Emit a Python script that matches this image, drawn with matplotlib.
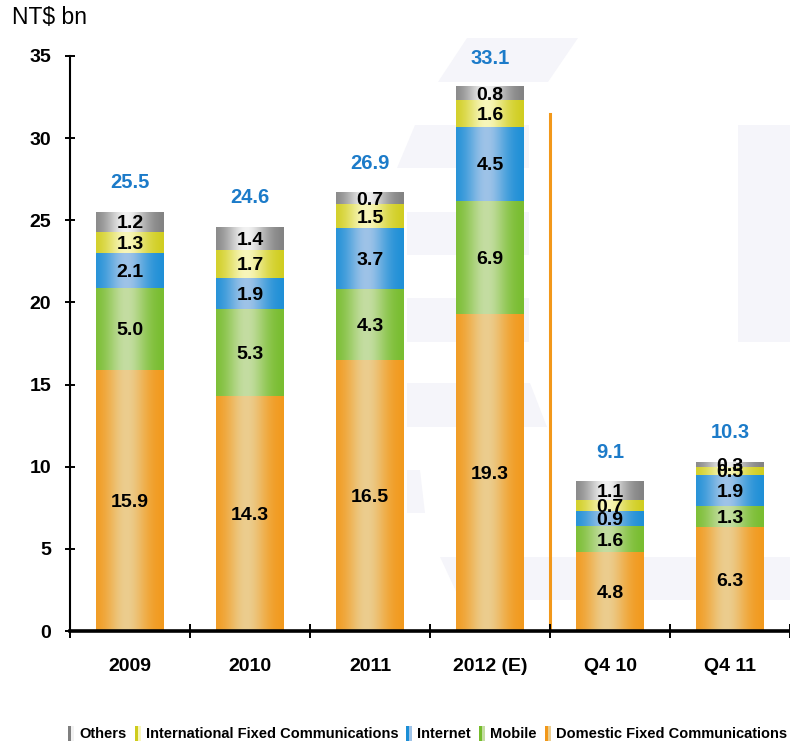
import numpy as np
import matplotlib
matplotlib.use('Agg')
import matplotlib.pyplot as plt
from matplotlib.patches import Polygon, Rectangle
from matplotlib.colors import to_rgb

# ---- data (NT$ bn) ----
categories = ['2009', '2010', '2011', '2012 (E)', 'Q4 10', 'Q4 11']
domestic = [15.9, 14.3, 16.5, 19.3, 4.8, 6.3]
mobile = [5.0, 5.3, 4.3, 6.9, 1.6, 1.3]
internet = [2.1, 1.9, 3.7, 4.5, 0.9, 1.9]
intl_fixed = [1.3, 1.7, 1.5, 1.6, 0.7, 0.5]
others = [1.2, 1.4, 0.7, 0.8, 1.1, 0.3]
totals = [25.5, 24.6, 26.9, 33.1, 9.1, 10.3]
yticks = [0, 5, 10, 15, 20, 25, 30, 35]

series_names = ['Domestic Fixed Communications', 'Mobile', 'Internet',
                'International Fixed Communications', 'Others']
series_vals = [domestic, mobile, internet, intl_fixed, others]
# (edge colour, centre highlight) for the cylinder-like shading
series_cols = [('#F2981A', '#EBCD8E'),
               ('#76BC2C', '#C4DDA2'),
               ('#1B8ED6', '#9EC3E8'),
               ('#CFCC1C', '#F8F6BA'),
               ('#7F7F7F', '#F2F2F2')]

FONT = ['Liberation Sans', 'DejaVu Sans']
W, H = 790, 745


def grad_row(edge, centre, n=80):
    t = np.linspace(0, 1, n)
    w = np.exp(-((t - 0.45) / 0.3) ** 2)
    e, c = np.array(to_rgb(edge)), np.array(to_rgb(centre))
    return (e[None, :] * (1 - w[:, None]) + c[None, :] * w[:, None])[None, :, :]


fig = plt.figure(figsize=(W / 100, H / 100), dpi=100)

# faint watermark shapes in the background (pixel coords, y from top)
wm = [
    [(467, 38), (578, 38), (548, 82), (438, 82)],
    [(415, 125), (529, 125), (529, 168), (397, 168)],
    [(738, 125), (790, 125), (790, 342), (738, 342)],
    [(407, 212), (529, 212), (529, 255), (407, 255)],
    [(407, 298), (529, 298), (529, 342), (407, 342)],
    [(407, 383), (530, 383), (547, 427), (407, 427)],
    [(407, 470), (420, 470), (425, 513), (407, 513)],
    [(440, 557), (790, 557), (790, 600), (460, 600)],
]
for poly in wm:
    pts = [(x / W, 1 - y / H) for x, y in poly]
    fig.add_artist(Polygon(pts, closed=True, transform=fig.transFigure,
                           facecolor='#F5F5FA', edgecolor='none', zorder=-5))

ax = fig.add_axes([70 / W, 1 - 631 / H, 720 / W, 575 / H])
ax.set_facecolor('none')

x = np.arange(len(categories))
bw = 0.56
bottom = np.zeros(len(categories))
for name, vals, (edge, centre) in zip(series_names, series_vals, series_cols):
    bars = ax.bar(x, vals, bw, bottom=bottom, color=edge, zorder=2, label=name)
    img = grad_row(edge, centre)
    for p, v in zip(bars.patches, vals):
        x0, y0 = p.get_xy()
        ax.imshow(img, extent=[x0, x0 + p.get_width(), y0, y0 + p.get_height()],
                  aspect='auto', interpolation='bilinear', zorder=3)
        ax.text(x0 + p.get_width() / 2, y0 + p.get_height() / 2, f'{v:.1f}',
                ha='center', va='center_baseline', fontsize=14, fontweight='bold',
                family=FONT, color='black', zorder=4)
    bottom += np.array(vals)

for xi, tot, top in zip(x, totals, bottom):
    ax.annotate(f'{tot:.1f}', (xi, top), xytext=(0, 21), textcoords='offset points',
                ha='center', va='center', fontsize=14.5, fontweight='bold',
                family=FONT, color='#1C7BC9', annotation_clip=False)

# divider between annual and quarterly figures
ax.plot([3.5, 3.5], [0, 31.5], color='#F2981A', lw=2.2, zorder=1)

ax.set_xlim(-0.5, 5.45)
ax.set_ylim(0, 35)
ax.set_yticks(yticks)
ax.set_xticks(x)
ax.set_xticklabels(categories)
ax.set_xticks(np.arange(-0.5, 5.6, 1.0), minor=True)
ax.tick_params(axis='x', which='major', length=0, pad=24)
ax.tick_params(axis='x', which='minor', direction='inout', length=10, width=1.4)
ax.tick_params(axis='y', direction='inout', length=7, width=1.4, pad=10)
for lab in ax.get_xticklabels() + ax.get_yticklabels():
    lab.set_family(FONT)
    lab.set_fontweight('bold')
    lab.set_fontsize(14)
for lab in ax.get_xticklabels():
    lab.set_va('center_baseline')
ax.spines['top'].set_visible(False)
ax.spines['right'].set_visible(False)
ax.spines['left'].set_linewidth(1.5)
ax.spines['bottom'].set_linewidth(2.6)
ax.spines['bottom'].set_zorder(5)

fig.text(12 / W, 1 - 18 / H, 'NT$ bn', fontsize=16.5, family=FONT,
         ha='left', va='center')

# legend along the bottom, sized so that it spans the figure width
renderer = fig.canvas.get_renderer()
entries = list(zip(series_names, series_cols))[::-1]
base = 13.0
texts = []
for name, _ in entries:
    t = fig.text(0, 1 - 733 / H, name, fontsize=base, fontweight='bold',
                 family=FONT, ha='left', va='center_baseline')
    texts.append(t)
widths = [t.get_window_extent(renderer).width for t in texts]
sw, gap_in, gap_out = 6, 5, 9
room = 786 - 68 - len(entries) * (sw + gap_in) - (len(entries) - 1) * gap_out
scale = min(1.0, room / sum(widths))
cur = 68
for (name, (edge, centre)), t, w in zip(entries, texts, widths):
    fig.add_artist(Rectangle((cur / W, 1 - 741 / H), 3 / W, 15 / H,
                             transform=fig.transFigure, facecolor=edge,
                             edgecolor='none'))
    fig.add_artist(Rectangle(((cur + 3) / W, 1 - 741 / H), 3 / W, 15 / H,
                             transform=fig.transFigure, facecolor=centre,
                             edgecolor='none'))
    t.set_fontsize(base * scale)
    t.set_x((cur + sw + gap_in) / W)
    cur += sw + gap_in + w * scale + gap_out

fig.savefig('out.png', dpi=100)
